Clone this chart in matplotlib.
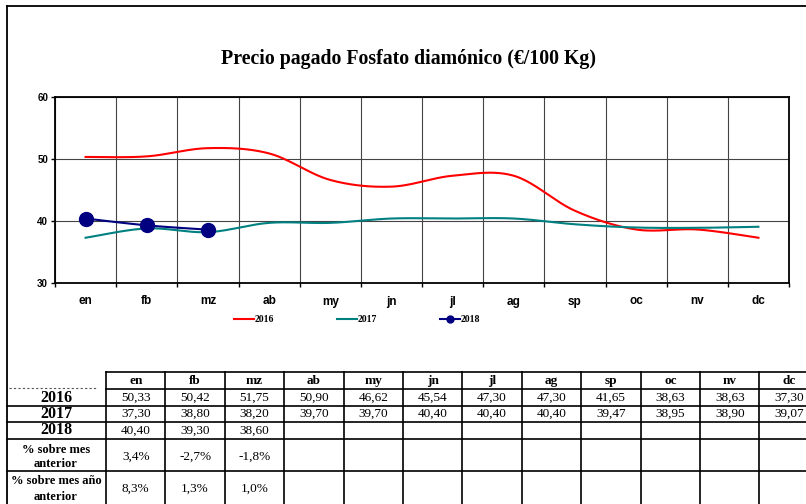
import numpy as np
import matplotlib
matplotlib.use("Agg")
import matplotlib.pyplot as plt
from matplotlib.lines import Line2D

months = ['en', 'fb', 'mz', 'ab', 'my', 'jn', 'jl', 'ag', 'sp', 'oc', 'nv', 'dc']
p2016 = [50.33, 50.42, 51.75, 50.90, 46.62, 45.54, 47.30, 47.30, 41.65, 38.63, 38.63, 37.30]
p2017 = [37.30, 38.80, 38.20, 39.70, 39.70, 40.40, 40.40, 40.40, 39.47, 38.95, 38.90, 39.07]
p2018 = [40.40, 39.30, 38.60]
years = ['2016', '2017', '2018']

W, H = 806, 504
SERIF = 'Liberation Serif'
SANS = 'Liberation Sans'


def smooth(y, n=40):
    # bezier smoothing through the points (same idea as spreadsheet "smoothed line")
    pts = np.column_stack([np.arange(len(y)), y]).astype(float)
    P = np.vstack([pts[0], pts, pts[-1]])
    t = np.linspace(0, 1, n)[:, None]
    out = []
    for i in range(1, len(P) - 2):
        p0, p1, p2, p3 = P[i - 1], P[i], P[i + 1], P[i + 2]
        c1 = p1 + (p2 - p0) / 6
        c2 = p2 - (p3 - p1) / 6
        seg = (1 - t) ** 3 * p1 + 3 * (1 - t) ** 2 * t * c1 + 3 * (1 - t) * t ** 2 * c2 + t ** 3 * p2
        out.append(seg if i == 1 else seg[1:])
    return np.vstack(out)


def fmt(v):
    return f"{v:.2f}".replace('.', ',')


def pct(a, b):
    return f"{(a / b - 1) * 100:.1f}%".replace('.', ',')


fig = plt.figure(figsize=(W / 100, H / 100), dpi=100)

# ---- chart ----
ax_l, ax_r, ax_t, ax_b = 55, 789, 97, 283
ax = fig.add_axes([ax_l / W, 1 - ax_b / H, (ax_r - ax_l) / W, (ax_b - ax_t) / H])

s16 = smooth(p2016)
s17 = smooth(p2017)
s18 = smooth(p2018)
ax.plot(s16[:, 0], s16[:, 1], color='#ff0000', lw=1.5, zorder=3)
ax.plot(s17[:, 0], s17[:, 1], color='#008080', lw=1.5, zorder=3)
ax.plot(s18[:, 0], s18[:, 1], color='#000080', lw=1.5, zorder=4)
ax.plot(np.arange(len(p2018)), p2018, ls='none', marker='o', ms=10,
        color='#000080', zorder=5)

ax.set_xlim(-0.5, len(months) - 0.5)
ax.set_ylim(30, 60)
ax.set_yticks([30, 40, 50, 60])
ax.set_xticks(np.arange(len(months) + 1) - 0.5)
ax.set_xticklabels([])
ax.set_xticks(np.arange(len(months)), minor=True)
ax.set_xticklabels(months, minor=True, fontsize=8.5, fontweight='bold', family=SANS)
ax.tick_params(axis='x', which='minor', length=0, pad=9)
ax.tick_params(axis='x', which='major', length=3, width=1, direction='out')
ax.tick_params(axis='y', length=3, width=1, pad=2, labelsize=7)
for lab in ax.get_yticklabels():
    lab.set_fontweight('bold')
    lab.set_family(SANS)
ax.grid(True, which='major', color='#444444', lw=0.8)
ax.set_axisbelow(True)
for sp in ax.spines.values():
    sp.set_linewidth(1.3)

fig.text(409 / W, 1 - 59 / H, 'Precio pagado Fosfato diamónico (€/100 Kg)',
         ha='center', va='center', fontsize=14.3, fontweight='bold', family=SERIF)

handles = [
    Line2D([], [], color='#ff0000', lw=1.5),
    Line2D([], [], color='#008080', lw=1.5),
    Line2D([], [], color='#000080', lw=1.5, marker='o', ms=5),
]
fig.legend(handles, years, loc='center', bbox_to_anchor=(357 / W, 1 - 320 / H),
           ncol=3, frameon=False, handlelength=2.1, handletextpad=0.1,
           columnspacing=6.4, prop={'family': SERIF, 'weight': 'bold', 'size': 7})

# ---- data table and outer frame, drawn in pixel coordinates ----
tab = fig.add_axes([0, 0, 1, 1], zorder=-1)
tab.set_xlim(0, W)
tab.set_ylim(H, 0)
tab.axis('off')

tab.plot([7, W], [6, 6], color='black', lw=1.3)
tab.plot([7, 7], [6, H], color='black', lw=1.3)

col0, cw = 106, 59.4
cols = [col0 + cw * k for k in range(len(months) + 1)]
rows = [372, 389, 406, 422, 439, 471, 505]
lw_t = 1.2

tab.plot([col0, W], [rows[0], rows[0]], color='black', lw=lw_t)
tab.plot([col0, W], [rows[1], rows[1]], color='black', lw=lw_t)
tab.plot([9, 97], [rows[1] - 1, rows[1] - 1], color='#555555', lw=0.8, ls=(0, (2, 2)))
for y in rows[2:]:
    tab.plot([7, W], [y, y], color='black', lw=lw_t)
for x in cols:
    tab.plot([x, x], [rows[0], H], color='black', lw=lw_t)

centers = [(cols[k] + cols[k + 1]) / 2 for k in range(len(months))]
for k, m in enumerate(months):
    tab.text(centers[k], 381, m, ha='center', va='center', fontsize=9.5,
             fontweight='bold', family=SERIF)

series = [p2016, p2017, p2018]
row_y = [397.5, 414, 430.5]
for vals, yname, y in zip(series, years, row_y):
    tab.text(56, y, yname, ha='center', va='center', fontsize=11.5,
             fontweight='bold', family=SERIF)
    for k, v in enumerate(vals):
        tab.text(centers[k], y, fmt(v), ha='center', va='center', fontsize=9.5,
                 family=SERIF)

tab.text(56, 450, '% sobre mes', ha='center', va='center', fontsize=9,
         fontweight='bold', family=SERIF)
tab.text(56, 464, 'anterior', ha='center', va='center', fontsize=9,
         fontweight='bold', family=SERIF)
tab.text(56, 481, '% sobre mes año', ha='center', va='center', fontsize=9,
         fontweight='bold', family=SERIF)
tab.text(56, 497, 'anterior', ha='center', va='center', fontsize=9,
         fontweight='bold', family=SERIF)

prev = [p2017[-1]] + p2018[:-1]
for k, v in enumerate(p2018):
    tab.text(centers[k], 457, pct(v, prev[k]), ha='center', va='center',
             fontsize=9.5, family=SERIF)
    tab.text(centers[k], 489, pct(v, p2017[k]), ha='center', va='center',
             fontsize=9.5, family=SERIF)

fig.savefig('out.png', dpi=100)
